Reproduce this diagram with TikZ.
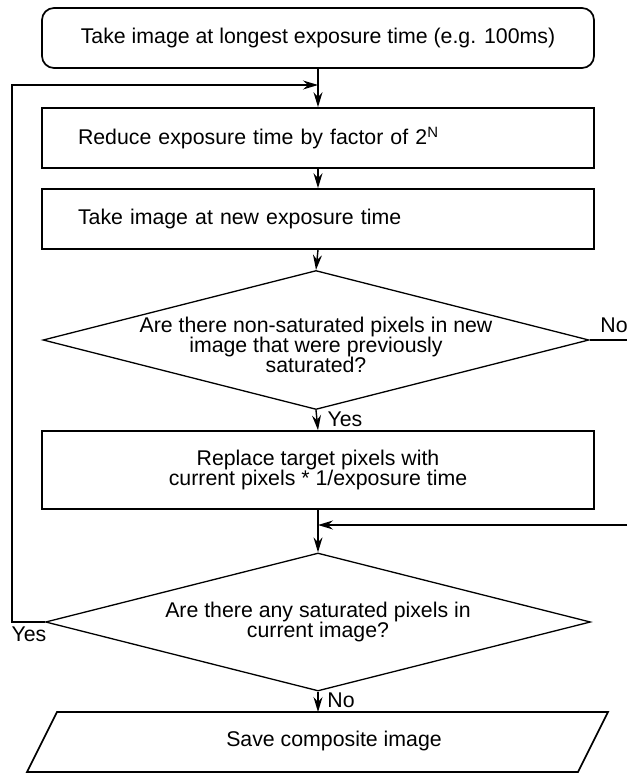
\documentclass[tikz,border=0pt]{standalone}
\usepackage{fontspec}
\setmainfont{Liberation Sans}
\usetikzlibrary{shapes.geometric, arrows.meta}

\begin{document}
\begin{tikzpicture}[x=1pt, y=-1pt,
  every node/.style={font=\fontsize{21.3}{20}\selectfont},
  box/.style={draw, line width=1.7pt, minimum width=552pt, minimum height=60pt, inner sep=0pt},
  leftbox/.style={box, text width=480pt, align=left},
  decision/.style={draw, diamond, line width=1.3pt, inner sep=0pt},
  arr/.style={line width=1.4pt, -{Stealth[length=15pt, width=9pt, inset=5pt]}},
  ln/.style={line width=1.4pt}]
\useasboundingbox (0,0) rectangle (627,773);
\node[box, rounded corners=12pt] (start) at (318,38) {Take image at longest exposure time (e.g. 100ms)};
\node[leftbox] (reduce) at (318,138) {Reduce exposure time by factor of 2\textsuperscript{N}};
\node[leftbox] (newexp) at (318,219) {Take image at new exposure time};
\node[decision, minimum width=546pt, minimum height=139pt,
  label={[align=center, yshift=-5pt]center:Are there non-saturated pixels in new\\image that were previously\\saturated?}] (dec1) at (316,340) {};
\node[box, minimum height=78pt, align=center] (replace) at (318,470) {Replace target pixels with\\current pixels * 1/exposure time};
\node[decision, minimum width=545pt, minimum height=138pt,
  label={[align=center]center:Are there any saturated pixels in\\current image?}] (dec2) at (318,622) {};
\node (save) at (334,741) {Save composite image};
\draw[line width=1.7pt] (27,772) -- (57,712) -- (608,712) -- (578,772) -- cycle;

\coordinate (join1) at (318,85);
\coordinate (join2) at (318,525);
\coordinate (noend) at (627,340);
\coordinate (retstart) at (627,525);
\coordinate (savetop) at (318,712);

\draw[arr] (start.south) -- (reduce.north);
\draw[arr] (dec2.west) -- ++(-33,0) |- (join1);
\draw[arr] (reduce.south) -- (newexp.north);
\draw[arr] (newexp.south) -- (dec1.north);
\draw[arr] (dec1.south) -- (replace.north);
\draw[ln] (dec1.east) -- (noend);
\draw[arr] (replace.south) -- (dec2.north);
\draw[arr] (retstart) -- (join2);
\draw[arr] (dec2.south) -- (savetop);

\node (yes1) at (345,419) {Yes};
\node (no1) at (614,325) {No};
\node (yes2) at (29,634) {Yes};
\node (no2) at (341,700) {No};
\end{tikzpicture}
\end{document}
